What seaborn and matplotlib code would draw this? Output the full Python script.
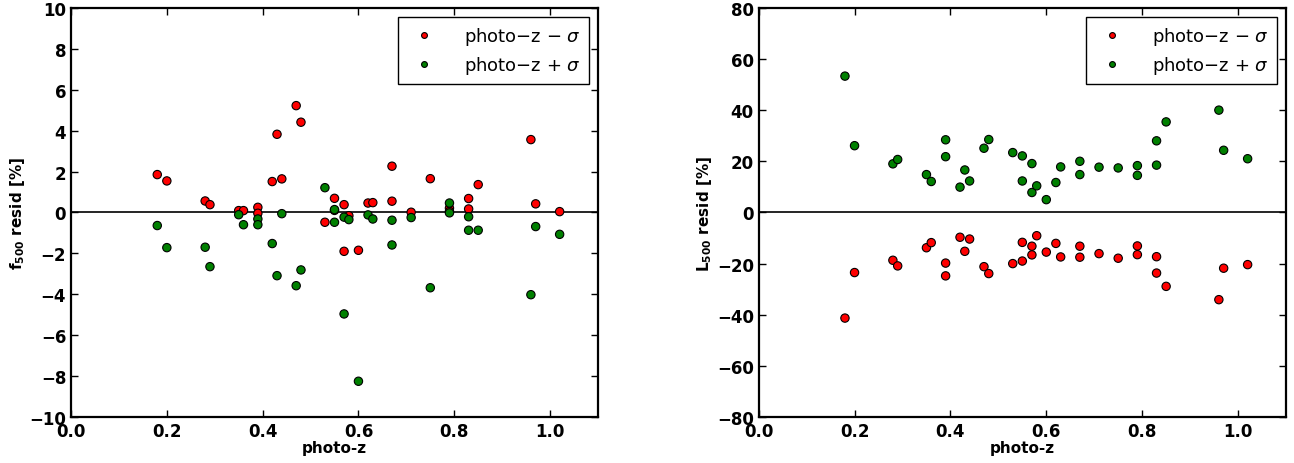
import numpy as np
import pandas as pd
import seaborn as sns
import matplotlib.pyplot as plt

# photo-z of each cluster (same for both panels)
photo_z = [0.18, 0.20, 0.28, 0.29, 0.35, 0.36, 0.39, 0.39, 0.42, 0.43,
           0.44, 0.47, 0.48, 0.53, 0.55, 0.55, 0.57, 0.57, 0.58, 0.60,
           0.62, 0.63, 0.67, 0.67, 0.71, 0.75, 0.79, 0.79, 0.83, 0.83,
           0.85, 0.96, 0.97, 1.02]

# f500 residuals [%]
f500_minus = [1.85, 1.54, 0.56, 0.38, 0.09, 0.09, 0.25, -0.04, 1.51, 3.82,
              1.64, 5.22, 4.41, -0.48, 0.69, 0.10, 0.38, -1.90, -0.16, -1.85,
              0.46, 0.48, 2.26, 0.55, 0.01, 1.65, 0.21, 0.05, 0.68, 0.17,
              1.36, 3.56, 0.42, 0.04]
f500_plus = [-0.64, -1.72, -1.70, -2.65, -0.11, -0.60, -0.32, -0.60, -1.52, -3.09,
             -0.06, -3.58, -2.81, 1.21, 0.14, -0.48, -0.23, -4.96, -0.35, -8.25,
             -0.12, -0.32, -0.38, -1.59, -0.25, -3.68, 0.46, -0.02, -0.21, -0.87,
             -0.87, -4.02, -0.69, -1.07]

# L500 residuals [%]
l500_minus = [-41.3, -23.5, -18.7, -20.9, -13.8, -11.8, -19.8, -24.8, -9.7, -15.2,
              -10.4, -21.2, -23.9, -20.0, -11.7, -19.0, -13.2, -16.6, -9.1, -15.5,
              -12.1, -17.4, -13.2, -17.5, -16.1, -17.9, -13.1, -16.5, -17.3, -23.7,
              -28.9, -34.1, -21.8, -20.4]
l500_plus = [53.3, 26.1, 19.0, 20.7, 14.8, 12.1, 28.4, 21.8, 9.9, 16.6,
             12.3, 25.1, 28.5, 23.4, 22.1, 12.3, 19.1, 7.8, 10.4, 5.0,
             11.7, 17.8, 20.0, 14.8, 17.7, 17.4, 18.3, 14.5, 28.0, 18.5,
             35.4, 40.0, 24.3, 21.0]

lab_minus = r'photo$-$z $-$ $\sigma$'
lab_plus = r'photo$-$z + $\sigma$'


def make_df(minus, plus):
    return pd.DataFrame({
        'z': photo_z + photo_z,
        'resid': minus + plus,
        'series': [lab_minus] * len(minus) + [lab_plus] * len(plus),
    })


sns.set_style('ticks')
plt.rcParams['font.family'] = ['DejaVu Sans']
for k in ['text.color', 'axes.labelcolor', 'xtick.color', 'ytick.color',
          'axes.edgecolor']:
    plt.rcParams[k] = 'black'
plt.rcParams['axes.linewidth'] = 1.6
plt.rcParams['xtick.direction'] = 'in'
plt.rcParams['ytick.direction'] = 'in'

fig = plt.figure(figsize=(12.94, 4.64), dpi=100)
ax1 = fig.add_axes([0.0549, 0.099, 0.4072, 0.882])
ax2 = fig.add_axes([0.5863, 0.099, 0.4075, 0.882])

palette = {lab_minus: '#ff0000', lab_plus: '#008000'}

panels = [
    (ax1, make_df(f500_minus, f500_plus), (-10, 10), np.arange(-10, 11, 2),
     r'$\mathbf{f_{500}}$ resid [%]'),
    (ax2, make_df(l500_minus, l500_plus), (-80, 80), np.arange(-80, 81, 20),
     r'$\mathbf{L_{500}}$ resid [%]'),
]

for ax, df, ylim, yticks, ylabel in panels:
    sns.scatterplot(data=df, x='z', y='resid', hue='series', palette=palette,
                    s=36, edgecolor='k', linewidth=0.8, ax=ax)
    ax.axhline(0, color='k', lw=1.2, zorder=0)
    ax.set_xlim(0, 1.1)
    ax.set_ylim(*ylim)
    ax.set_xticks(np.arange(0, 1.01, 0.2))
    ax.set_yticks(yticks)
    ax.tick_params(top=True, right=True, length=5, width=1, labelsize=12)
    for t in ax.get_xticklabels() + ax.get_yticklabels():
        t.set_fontweight('bold')
    ax.set_xlabel('photo-z', fontsize=11, fontweight='bold', labelpad=0)
    ax.set_ylabel(ylabel, fontsize=11, fontweight='bold', labelpad=2)
    leg = ax.legend(loc='upper right', scatterpoints=1, markerscale=0.7,
                    fancybox=False, framealpha=1, edgecolor='k',
                    prop={'size': 13, 'weight': 'normal'},
                    borderpad=0.45, handletextpad=1.2, labelspacing=0.4)
    leg.get_frame().set_linewidth(1.0)

fig.savefig('out.png', dpi=100)
